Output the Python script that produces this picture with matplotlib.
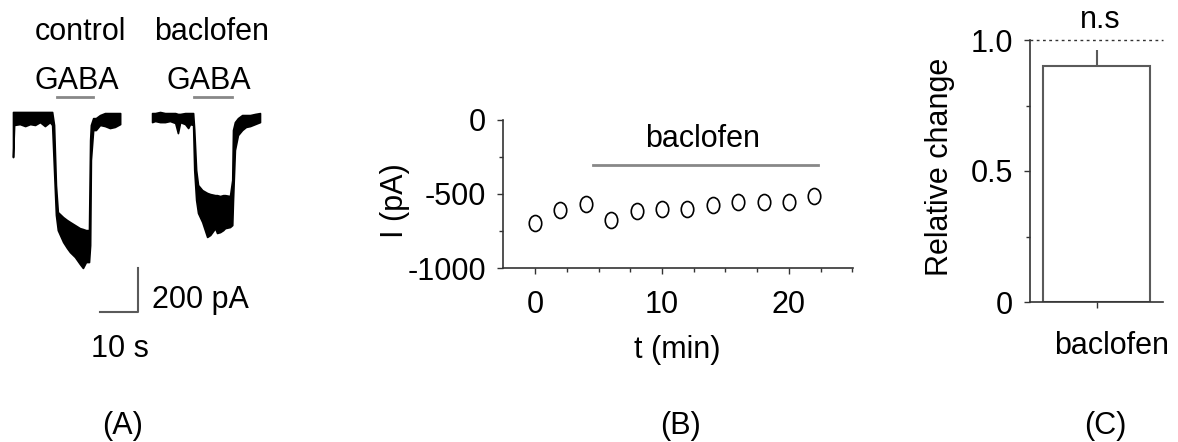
import matplotlib
matplotlib.use('Agg')
import matplotlib.pyplot as plt
import numpy as np
from matplotlib.path import Path

plt.rcParams['font.family'] = ['Liberation Sans', 'DejaVu Sans']
plt.rcParams['font.size'] = 22
plt.rcParams['axes.unicode_minus'] = False

W, H = 1178, 442

# ---- panel A: GABA current traces (envelopes) ----
ctrl_t = [0, 0.3, 1.8, 3.2, 4.5, 5.8, 7.1, 8.4, 9.7, 10.3, 10.8, 11.3, 11.8, 13.2, 14.2,
          15.0, 16.3, 17.6, 18.4, 19.2, 20.0, 20.3, 20.5, 21.1, 21.8, 22.9, 24.2, 25.5, 26.8, 28.2]
ctrl_hi = [23, 23, 23, 23, 23, 23, 23, 23, 23, 23, -36, -309, -432, -455, -468,
           -477, -491, -505, -509, -514, -514, -105, -36, -5, -5, 9, 18, 18, 18, 18]
ctrl_lo = [-182, -36, -32, -41, -32, -36, -23, -41, -23, -36, -241, -445, -514, -568, -595,
           -614, -636, -668, -686, -659, -659, -582, -195, -59, -59, -36, -41, -50, -45, -32]

bac_t = [0, 0.8, 2.1, 3.4, 4.7, 6.1, 6.8, 7.4, 8.7, 9.5, 10.0, 10.8, 11.1, 11.6, 12.1, 13.2, 14.5,
         15.3, 16.6, 17.1, 17.9, 18.7, 19.2, 20.5, 21.1, 21.3, 21.8, 22.6, 23.7, 24.7, 25.8, 27.1, 28.4]
bac_hi = [18, 18, 23, 18, 18, 18, 14, 14, 18, 18, 18, 18, -59, -241, -309, -332, -345,
          -350, -355, -355, -359, -355, -355, -359, -286, -59, -23, -5, 9, 9, 9, 14, 18]
bac_lo = [-23, -18, -23, -23, -18, -27, -73, -23, -32, -50, -32, -36, -241, -377, -436, -477, -545,
          -536, -505, -527, -523, -514, -505, -500, -491, -377, -150, -82, -59, -45, -41, -32, -23]

gaba_ctrl = [11.6, 21.1]
gaba_bac = [11.1, 21.1]
scale_s = 10
scale_pA = 200

# ---- panel B: peak current over time ----
t_min = [0, 2, 4, 6, 8, 10, 12, 14, 16, 18, 20, 22]
peak_pA = [-698, -608, -570, -676, -615, -601, -601, -574, -552, -556, -556, -511]
bac_span = [4.6, 22.3]

# ---- panel C: relative change ----
groups = ['baclofen']
rel_mean = [0.90]
rel_sem = [0.06]


def px(x, y):
    return x / W, 1 - y / H


fig = plt.figure(figsize=(W / 100, H / 100), dpi=100)
axis_c = '#333333'
line_c = '#5a5a5a'

#############################################################
# (A) traces
#############################################################
ax_a = fig.add_axes([0, 0, 290 / W, 1])
ax_a.set_axis_off()
ax_a.set_xlim(-3.42, 72.9)
ax_a.set_ylim(-1477, 532)
bac_off = 36.6
ax_a.fill_between(ctrl_t, ctrl_lo, ctrl_hi, color='black', lw=1.2)
ax_a.fill_between(np.array(bac_t) + bac_off, bac_lo, bac_hi, color='black', lw=1.2)
ax_a.plot(gaba_ctrl, [91, 91], color='#888888', lw=2)
ax_a.plot(np.array(gaba_bac) + bac_off, [91, 91], color='#888888', lw=2)
x0, y0 = 32.9, -886
ax_a.plot([x0 - scale_s, x0, x0], [y0, y0, y0 + scale_pA], color=line_c, lw=1.5)

fig.text(*px(80, 40), 'control', ha='center', va='baseline')
fig.text(*px(212, 40), 'baclofen', ha='center', va='baseline')
fig.text(*px(77, 89), 'GABA', ha='center', va='baseline')
fig.text(*px(209, 89), 'GABA', ha='center', va='baseline')
fig.text(*px(152, 308), '200 pA', ha='left', va='baseline')
fig.text(*px(120, 357), '10 s', ha='center', va='baseline')

#############################################################
# (B) I vs t
#############################################################
circ = Path.unit_circle()
ellipse = Path(circ.vertices * [0.78, 1.0], circ.codes)

ax_b = fig.add_axes([503 / W, 1 - 268 / H, 350 / W, 148 / H])
ax_b.plot(t_min, peak_pA, ls='none', marker=ellipse, ms=11.5, mfc='white', mec='black', mew=1.2)
ax_b.plot(bac_span, [-304, -304], color='#888888', lw=2)
ax_b.text(13.2, -128, 'baclofen', ha='center', va='center')
ax_b.set_xlim(-2.52, 25.04)
ax_b.set_ylim(-1000, 0)
ax_b.set_xticks([0, 10, 20])
ax_b.set_xticks(np.arange(0, 25.1, 2.5), minor=True)
ax_b.set_yticks([-1000, -500, 0])
ax_b.set_yticks([-750, -250], minor=True)
for side in ['top', 'right']:
    ax_b.spines[side].set_visible(False)
for side in ['left', 'bottom']:
    ax_b.spines[side].set_color(axis_c)
    ax_b.spines[side].set_linewidth(1.2)
ax_b.tick_params(which='major', length=4, width=1, color=axis_c, pad=8)
ax_b.tick_params(which='minor', length=3, width=1, color=axis_c)
ax_b.tick_params(axis='x', which='major', pad=12)
fig.text(*px(395, 201), 'I (pA)', rotation=90, ha='center', va='center')
fig.text(*px(677, 350), 't (min)', ha='center', va='center')

#############################################################
# (C) relative change
#############################################################
ax_c = fig.add_axes([1030 / W, 1 - 302 / H, 133 / W, 262 / H])
ax_c.bar([0], rel_mean, width=1, facecolor='white', edgecolor=line_c, lw=1.5)
ax_c.vlines(0, rel_mean[0], rel_mean[0] + rel_sem[0], color=line_c, lw=1.5)
ax_c.axhline(1.0, ls=(0, (2, 2.5)), color=axis_c, lw=1, clip_on=False)
ax_c.set_xlim(-0.62, 0.62)
ax_c.set_ylim(0, 1.0)
ax_c.set_xticks([0], [''])
ax_c.set_yticks([0, 0.5, 1.0], ['0', '0.5', '1.0'])
ax_c.set_yticks([0.25, 0.75], minor=True)
for side in ['top', 'right']:
    ax_c.spines[side].set_visible(False)
for side in ['left', 'bottom']:
    ax_c.spines[side].set_color(axis_c)
    ax_c.spines[side].set_linewidth(1.2)
ax_c.tick_params(which='major', length=4, width=1, color=axis_c, pad=8)
ax_c.tick_params(which='minor', length=3, width=1, color=axis_c)
fig.text(*px(1112, 346), groups[0], ha='center', va='center')
fig.text(*px(1100, 20), 'n.s', ha='center', va='center')
fig.text(*px(940, 167), 'Relative change', rotation=90, ha='center', va='center')

# panel letters
fig.text(*px(123, 426), '(A)', ha='center', va='center')
fig.text(*px(680, 426), '(B)', ha='center', va='center')
fig.text(*px(1105, 426), '(C)', ha='center', va='center')

fig.savefig('out.png', dpi=100)
